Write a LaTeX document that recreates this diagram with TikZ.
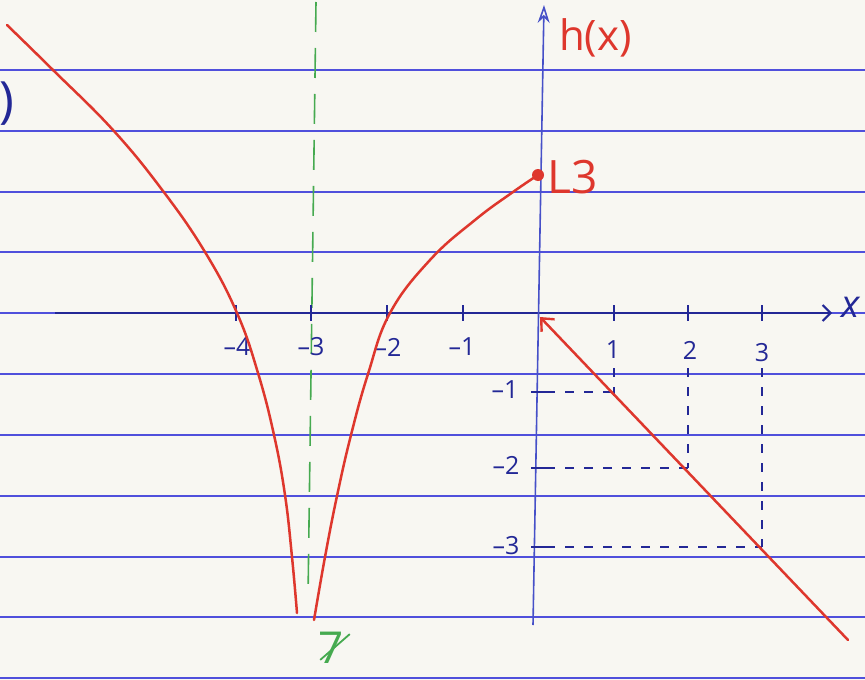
\documentclass[tikz,border=0pt]{standalone}
\usepackage{fontspec}
\setmainfont{Open Sans}
\usetikzlibrary{arrows.meta,calc}
\definecolor{paper}{RGB}{248,247,242}
\definecolor{ruleblue}{RGB}{80,80,220}
\definecolor{ink}{RGB}{35,40,150}
\definecolor{inklight}{RGB}{70,80,200}
\definecolor{redink}{RGB}{222,55,45}
\definecolor{greenink}{RGB}{70,170,80}
\tikzset{
  ruled/.style={draw=ruleblue, line width=1.2pt},
  xaxis/.style={draw=ink, line width=2.6pt},
  yaxis/.style={draw=inklight, line width=1.6pt},
  tickmark/.style={draw=ink, line width=1.4pt},
  guide/.style={draw=ink, line width=1.3pt, dash pattern=on 9pt off 10pt},
  asym/.style={draw=greenink, line width=1.6pt, dash pattern=on 30pt off 16pt},
  curve/.style={draw=redink, line width=2.5pt, line cap=round, line join=round},
  ticklabel/.style={text=ink, font=\fontsize{25}{25}\selectfont, inner sep=0pt},
  redlabel/.style={text=redink, inner sep=0pt},
}
\begin{document}
\begin{tikzpicture}[x=1pt,y=-1pt]
\fill[paper] (0,0) rectangle (865,680);
\useasboundingbox (0,0) rectangle (865,680);
% ruled paper
\foreach \yy in {70,131,192,252,313,374,435,496,557,617,678}
  \draw[ruled] (0,\yy) -- (865,\yy);
% partial label at left edge
\node[text=ink, font=\fontsize{50}{50}\selectfont, inner sep=0pt] (paren) at (7,104) {)};
% asymptote
\coordinate (asTop) at (316,2);
\coordinate (asBot) at (308,598);
\draw[asym] (asTop) -- (asBot);
\node[text=greenink, font=\fontsize{44}{44}\selectfont, inner sep=0pt] (seven) at (331,648) {7};
\draw[greenink, line width=1.8pt] ($(seven.north east)+(6,2)$) -- ($(seven.south west)+(2,-4)$);
% axes
\coordinate (xs) at (55,313);
\coordinate (xe) at (832,313);
\draw[xaxis, -{Straight Barb[length=8pt,width=16pt,line width=2pt]}] (xs) -- (xe);
\node[text=ink, font=\itshape\fontsize{38}{38}\selectfont, inner sep=0pt] (xl) at (851,307) {x};
\coordinate (yb) at (533,625);
\coordinate (yt) at (544,5);
\draw[yaxis, -{Stealth[length=18pt,width=12pt,open]}] (yb) -- (yt);
\node[redlabel, font=\fontsize{42}{42}\selectfont, anchor=west] (hx) at (559,38) {h(x)};
% ticks on x axis
\foreach \xx in {236,311,387,463,614,688,762}
  \draw[tickmark] (\xx,305) -- (\xx,321);
\foreach \yy in {392,468,547}
  \draw[tickmark] (531,\yy) -- (546,\yy);
% tick labels
\node[ticklabel] (lm4) at (237,347) {–4};
\node[ticklabel] (lm3) at (311,347) {–3};
\node[ticklabel] (lm2) at (388,347) {–2};
\node[ticklabel] (lm1) at (462,347) {–1};
\node[ticklabel] (l1) at (613,350) {1};
\node[ticklabel] (l2) at (690,350) {2};
\node[ticklabel] (l3) at (762,353) {3};
\node[ticklabel] (ym1) at (505,390) {–1};
\node[ticklabel] (ym2) at (506,465) {–2};
\node[ticklabel] (ym3) at (506,546) {–3};
% guide dashes
\coordinate (p1) at (614,392);
\coordinate (p2) at (688,468);
\coordinate (p3) at (762,547);
\draw[guide] (546,392) -- (p1);
\draw[guide] (614,368) -- (614,404);
\draw[guide] (546,468) -- (p2);
\draw[guide] (688,368) -- (p2);
\draw[guide] (546,547) -- (p3);
\draw[guide] (762,368) -- (p3);
% red graph
\draw[curve] plot[smooth, tension=0.7] coordinates {(7,25) (53,70) (113,130) (163,191) (205,252) (237,313) (258,373) (274,435) (285,495) (292,557) (297,613)};
\coordinate (top) at (538,175);
\draw[curve] plot[smooth, tension=0.7] coordinates {(314,620) (325,557) (337,496) (351,435) (368,374) (390,313) (430,260) (475,220) (513,192) (538,175)};
\fill[redink] (top) circle (6pt);
\node[redlabel, font=\fontsize{46}{46}\selectfont, anchor=west] (L3) at (547,177) {L3};
\coordinate (orig) at (540,317);
\coordinate (lineEnd) at (848,640);
\draw[curve, {Straight Barb[length=10pt,width=18pt,line width=2.4pt]}-] (orig) -- (lineEnd);
\end{tikzpicture}
\end{document}
